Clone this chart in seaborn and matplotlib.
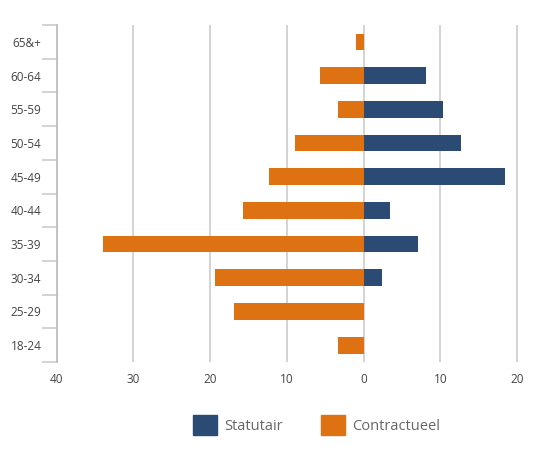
import numpy as np
import matplotlib
matplotlib.use('Agg')
import matplotlib.pyplot as plt
import seaborn as sns
import pandas as pd
from matplotlib.ticker import FuncFormatter, FixedLocator
from matplotlib.patches import Patch

age_groups = ['65&+', '60-64', '55-59', '50-54', '45-49', '40-44', '35-39', '30-34', '25-29', '18-24']
statutair = [0, 8.1, 10.4, 12.7, 18.4, 3.4, 7.1, 2.4, 0, 0]
contractueel = [1.0, 5.7, 3.4, 9.0, 12.3, 15.7, 33.9, 19.3, 16.9, 3.4]

blue = '#2b4a74'
orange = '#de7112'

df = pd.concat([
    pd.DataFrame({'age': age_groups, 'value': statutair, 'type': 'Statutair'}),
    pd.DataFrame({'age': age_groups, 'value': [-v for v in contractueel], 'type': 'Contractueel'}),
])

sns.set_style('white')
plt.rcParams['font.family'] = ['Open Sans', 'DejaVu Sans']

fig = plt.figure(figsize=(5.5, 4.57), dpi=100)
ax = fig.add_axes([0.103, 0.208, 0.879, 0.737])

sns.barplot(data=df, y='age', x='value', hue='type', order=age_groups,
            hue_order=['Statutair', 'Contractueel'], palette=[blue, orange],
            dodge=False, width=0.5, orient='h', legend=False, saturation=1,
            linewidth=0, ax=ax)

ax.set_xlim(-40, 23)
ax.set_ylim(len(age_groups) - 0.5, -0.5)
ax.set_xticks([-40, -30, -20, -10, 0, 10, 20])
ax.xaxis.set_major_formatter(FuncFormatter(lambda v, p: f'{abs(int(v))}'))
ax.grid(axis='x', color='#cccccc', linewidth=1.2)
ax.set_axisbelow(True)

ax.yaxis.set_minor_locator(FixedLocator(np.arange(-0.5, len(age_groups), 1)))
ax.tick_params(axis='y', which='major', left=True, length=0, pad=11, labelsize=8.5, labelcolor='#444444')
ax.tick_params(axis='y', which='minor', left=True, length=11, width=1.2, color='#cccccc', direction='out')
ax.tick_params(axis='x', length=0, pad=8, labelsize=8.5, labelcolor='#444444')

for s in ['top', 'right', 'bottom']:
    ax.spines[s].set_visible(False)
ax.spines['left'].set_color('#bbbbbb')
ax.spines['left'].set_linewidth(1.2)

ax.set_xlabel('')
ax.set_ylabel('')

handles = [Patch(color=blue, label='Statutair'), Patch(color=orange, label='Contractueel')]
fig.legend(handles=handles, loc='center', bbox_to_anchor=(0.575, 0.07), ncol=2,
           frameon=False, fontsize=10.5, handlelength=1.65, handleheight=1.65,
           handletextpad=0.5, columnspacing=2.6, labelcolor='#666666')

fig.savefig('out.png', dpi=100)
